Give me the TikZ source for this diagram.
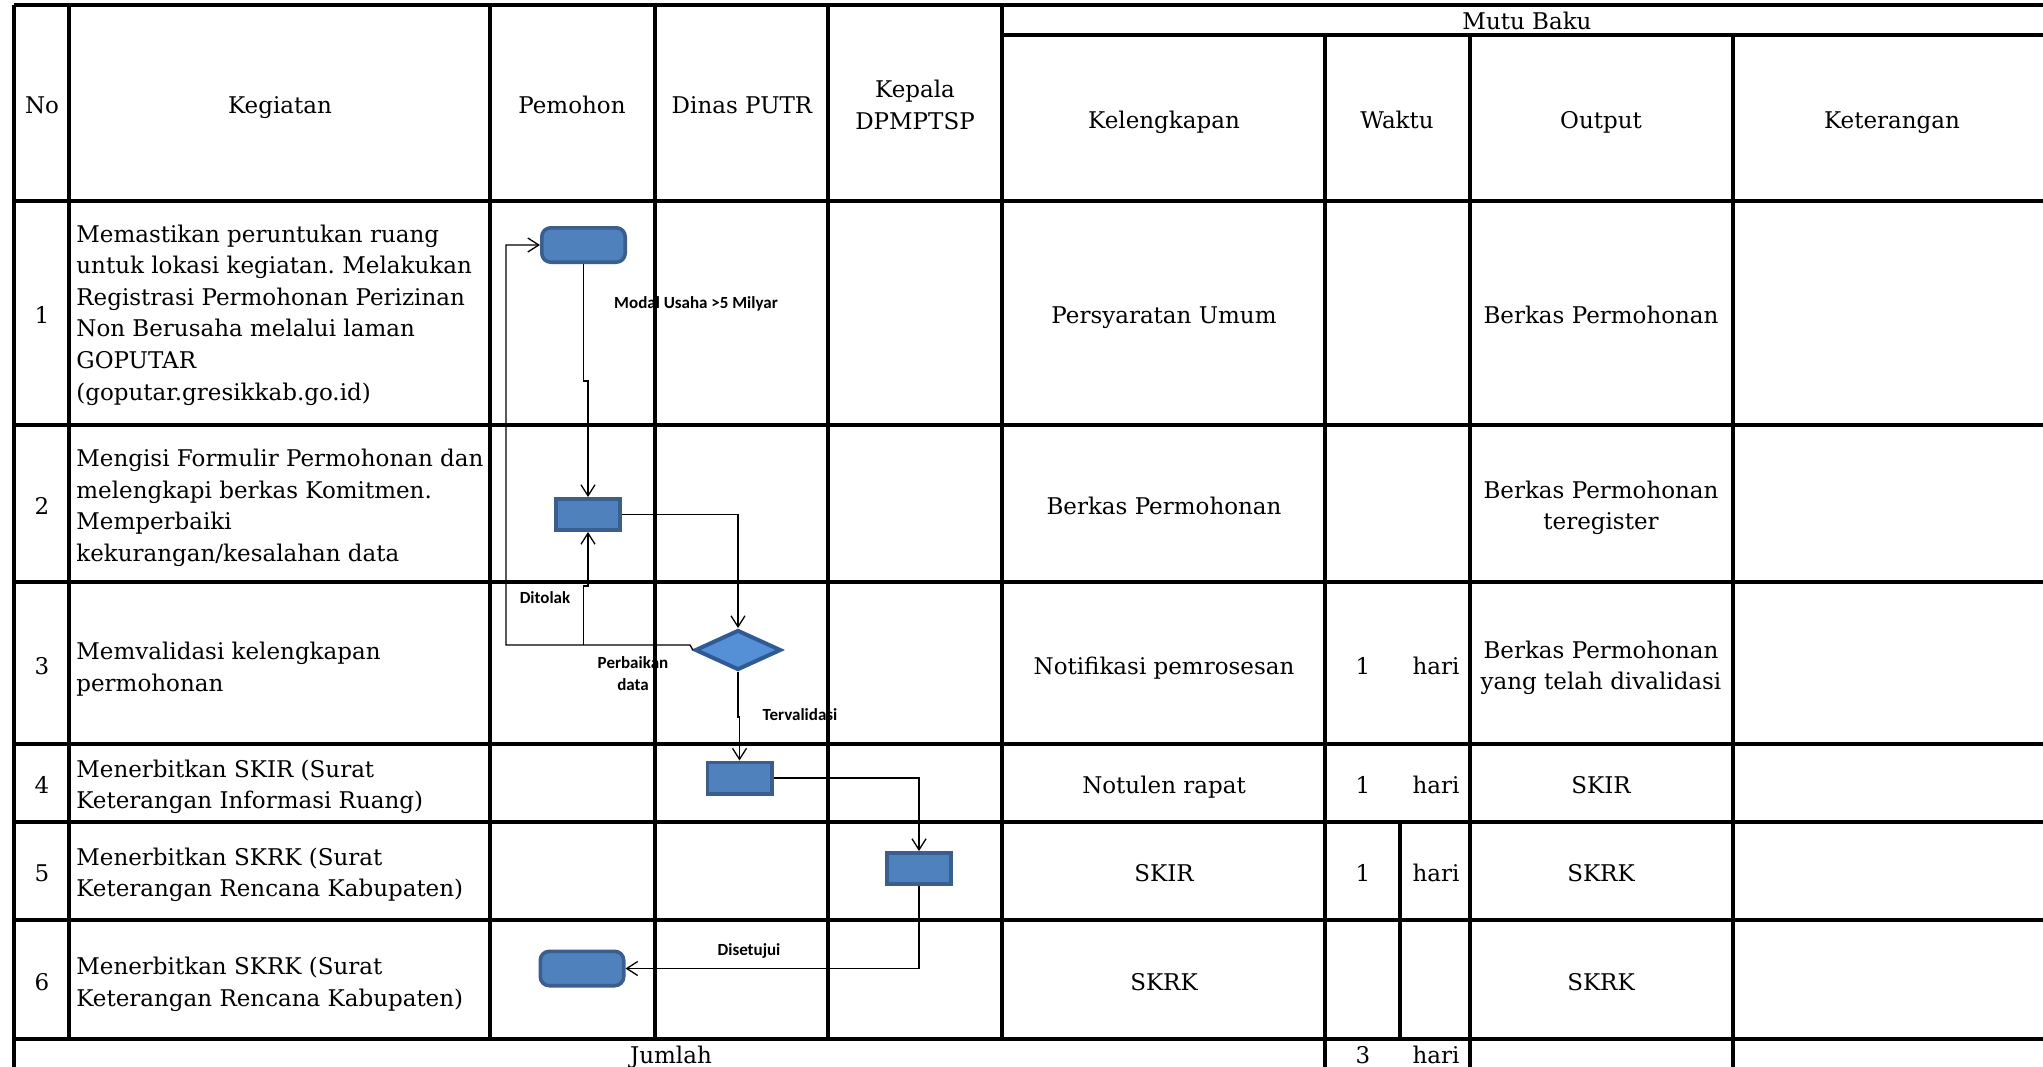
\documentclass[tikz,border=0pt]{standalone}
\usepackage{fontspec}
\setmainfont{DejaVu Serif}
\newfontfamily\calibri{Carlito}
\usetikzlibrary{shapes.geometric,arrows.meta}
\frenchspacing

\definecolor{actfill}{HTML}{4F81BD}
\definecolor{actline}{HTML}{3A5F8F}
\definecolor{decfill}{HTML}{5590D6}
\definecolor{decline}{HTML}{2F5A96}

\tikzset{
  txtm/.style={font={\fontsize{11.5}{15.8}\selectfont}, inner sep=0pt, align=center},
  txt/.style={txtm, text height=1.5ex, text depth=.25ex, yshift=-1.5pt},
  kgt/.style={txtm, anchor=west, align=left},
  lbl/.style={font={\calibri\bfseries\fontsize{8.5}{11}\selectfont}, inner sep=0pt, align=center},
  act/.style={draw=actline, fill=actfill, line width=1.8pt, minimum width=32.2pt, minimum height=15.7pt, inner sep=0pt},
  actr/.style={act, rounded corners=4.5pt, minimum width=41.7pt, minimum height=17.2pt},
  decide/.style={diamond, draw=decline, fill=decfill, line width=2pt, inner sep=0pt, minimum width=43pt, minimum height=20pt},
  flow/.style={line width=0.65pt, ->},
  gridline/.style={line width=1.6pt},
  >={Straight Barb[length=5.5pt,width=7pt]}
}

\begin{document}
\begin{tikzpicture}[x=0.5pt, y=-0.5pt]
\useasboundingbox (0,0) rectangle (2043,1066);
\clip (0,0) rectangle (2043,1066);

% header
\node[txt] (hno) at (42,104) {No};
\node[txt] (hkeg) at (280,104) {Kegiatan};
\node[txt] (hpem) at (572,104) {Pemohon};
\node[txt] (hdin) at (742,104) {Dinas PUTR};
\node[txtm] (hkep) at (915,105) {Kepala\\DPMPTSP};
\node[txt] (hmutu) at (1527,20) {Mutu Baku};
\node[txt] (hkel) at (1164,119) {Kelengkapan};
\node[txt] (hwkt) at (1397,119) {Waktu};
\node[txt] (hout) at (1601,119) {Output};
\node[txt] (hket) at (1892,119) {Keterangan};

% row 1
\node[txt] (n1) at (42,314) {1};
\node[kgt] (k1) at (76,315) {Memastikan peruntukan ruang\\untuk lokasi kegiatan. Melakukan\\Registrasi Permohonan Perizinan\\Non Berusaha melalui laman\\GOPUTAR\\(goputar.gresikkab.go.id)};
\node[txt] (kel1) at (1164,314) {Persyaratan Umum};
\node[txt] (out1) at (1601,314) {Berkas Permohonan};

% row 2
\node[txt] (n2) at (42,505) {2};
\node[kgt] (k2) at (76,508) {Mengisi Formulir Permohonan dan\\melengkapi berkas Komitmen.\\Memperbaiki\\kekurangan/kesalahan data};
\node[txt] (kel2) at (1164,505) {Berkas Permohonan};
\node[txtm] (out2) at (1601,508) {Berkas Permohonan\\teregister};

% row 3
\node[txt] (n3) at (42,665) {3};
\node[kgt] (k3) at (76,669) {Memvalidasi kelengkapan\\permohonan};
\node[txt] (kel3) at (1164,665) {Notifikasi pemrosesan};
\node[txt] (w3) at (1363,665) {1};
\node[txt] (h3) at (1436,665) {hari};
\node[txtm] (out3) at (1601,668) {Berkas Permohonan\\yang telah divalidasi};

% row 4
\node[txt] (n4) at (42,784) {4};
\node[kgt] (k4) at (76,787) {Menerbitkan SKIR (Surat\\Keterangan Informasi Ruang)};
\node[txt] (kel4) at (1164,784) {Notulen rapat};
\node[txt] (w4) at (1363,784) {1};
\node[txt] (h4) at (1436,784) {hari};
\node[txt] (out4) at (1601,784) {SKIR};

% row 5
\node[txt] (n5) at (42,872) {5};
\node[kgt] (k5) at (76,875) {Menerbitkan SKRK (Surat\\Keterangan Rencana Kabupaten)};
\node[txt] (kel5) at (1164,872) {SKIR};
\node[txt] (w5) at (1363,872) {1};
\node[txt] (h5) at (1436,872) {hari};
\node[txt] (out5) at (1601,872) {SKRK};

% row 6
\node[txt] (n6) at (42,981) {6};
\node[kgt] (k6) at (76,984) {Menerbitkan SKRK (Surat\\Keterangan Rencana Kabupaten)};
\node[txt] (kel6) at (1164,981) {SKRK};
\node[txt] (out6) at (1601,981) {SKRK};

% jumlah
\node[txt] (jml) at (671,1054) {Jumlah};
\node[txt] (wj) at (1363,1054) {3};
\node[txt] (hj) at (1436,1054) {hari};

% flow
\node[actr] (b1) at (583.5,245) {};
\node[act] (b2) at (588,514.5) {};
\node[decide] (d1) at (738,650) {};
\node[act] (b3) at (739.5,778) {};
\node[act] (b4) at (919,868.5) {};
\node[actr] (b5) at (582,968.5) {};

\coordinate (back) at (506,645);
\coordinate (fix) at (583.5,645);

\draw[flow] (b1.south) -- ++(0,117) -| (b2.north);
\draw[flow] (b2.east) -| (d1.north);
\draw[flow] (d1.west) -- ++(-3,-5) -- (back) |- (b1.west);
\draw[flow] (fix) -- ++(0,-59) -| (b2.south);
\draw[flow] (d1.south) -- ++(0,45) -| (b3.north);
\draw[flow] (b3.east) -| (b4.north);
\draw[flow] (b4.south) |- (b5.east);

\node[lbl] (lmodal) at (696,304) {Modal Usaha >5 Milyar};
\node[lbl] (ltolak) at (545,598) {Ditolak};
\node[lbl] (lperb) at (633,674) {Perbaikan\\data};
\node[lbl] (lvalid) at (800,715) {Tervalidasi};
\node[lbl] (lsetuju) at (749,951) {Disetujui};

% table lines
\foreach \y in {5,201,425,582,744,822,920,1039}
  \draw[gridline] (14,\y) -- (2060,\y);
\draw[gridline] (1002,35) -- (2060,35);
\draw[gridline] (14,5) -- (14,1070);
\foreach \x in {69,490,655,828,1002}
  \draw[gridline] (\x,5) -- (\x,1039);
\foreach \x in {1325,1470,1733}
  \draw[gridline] (\x,35) -- (\x,1070);
\draw[gridline] (1400,822) -- (1400,1039);
\end{tikzpicture}
\end{document}
